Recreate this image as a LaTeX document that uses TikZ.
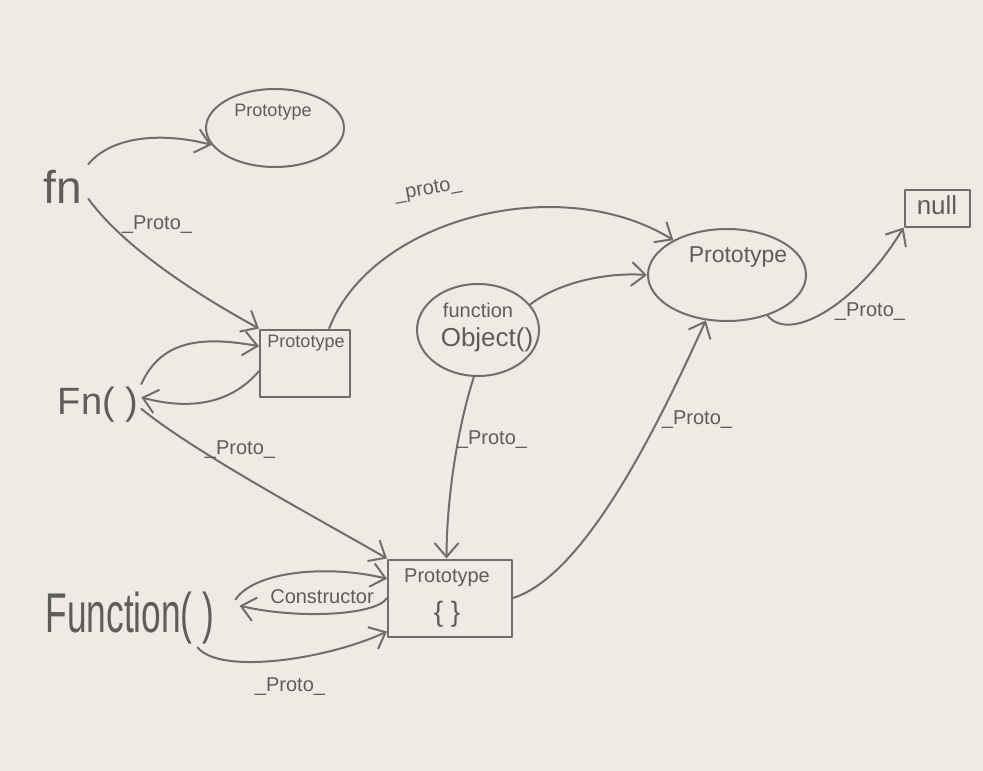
\documentclass[tikz,border=0pt]{standalone}
\usepackage{fontspec}
\setmainfont{Liberation Sans}
\usepackage{graphicx}
\usetikzlibrary{shapes.geometric,arrows.meta}
\definecolor{paper}{RGB}{238,235,229}
\definecolor{ink}{RGB}{112,110,108}
\definecolor{inktext}{RGB}{95,93,91}
\newcommand\fs[1]{\fontsize{#1}{#1}\selectfont}
\newcommand\sx[2]{\scalebox{#1}[1]{#2}}
\begin{document}
\begin{tikzpicture}[x=1pt,y=-1pt,line cap=round,line join=round,
  arr/.style={draw=ink,line width=2pt,-{Straight Barb[length=14pt,width=24pt]}},
  shp/.style={draw=ink,line width=2pt},
  txt/.style={text=inktext,inner sep=0pt},
  lbl/.style={txt,font=\fs{20}}]
\fill[paper] (0,0) rectangle (983,771);
\useasboundingbox (0,0) rectangle (983,771);

% nodes
\node[txt,font=\fs{46},inner sep=6pt] (fn) at (63,187) {fn};
\node[shp,ellipse,minimum width=138pt,minimum height=78pt] (ptop) at (275,128) {};
\node[txt,font=\fs{18}] (ptopT) at (273,112) {Prototype};
\node[shp,rectangle,minimum width=90pt,minimum height=67pt] (fnbox) at (305,363) {};
\node[txt,font=\fs{18}] (fnboxT) at (306,343) {Prototype};
\node[txt,font=\fs{38},inner sep=3pt] (FnP) at (98,405) {Fn( )};
\node[shp,ellipse,minimum width=122pt,minimum height=92pt] (obj) at (478,330) {};
\node[txt,font=\fs{20}] (objT1) at (478,310) {function};
\node[txt,font=\fs{26}] (objT2) at (487,340) {Object()};
\node[shp,ellipse,minimum width=158pt,minimum height=92pt] (bigE) at (727,275) {};
\node[txt,font=\fs{23}] (bigET) at (738,257) {Prototype};
\node[shp,minimum width=65pt,minimum height=37pt] (nullbox) at (937,208) {};
\node[txt,font=\fs{26}] (nullT) at (937,205) {null};
\node[shp,minimum width=124pt,minimum height=77pt] (bbox) at (450,598) {};
\node[txt,font=\fs{20}] (bboxT1) at (447,578) {Prototype};
\node[txt,font=\fs{28}] (bboxT2) at (447,614) {\{ \}};
\node[txt,font=\fs{56},inner sep=3pt] (Func) at (130,618) {\sx{0.63}{Function( )}};

% connectors
\draw[arr] (fn.north east) .. controls +(25,-30) and +(-45,-12) .. (ptop.195);
\draw[arr] (fn.-25) .. controls +(37,51) and +(-55,-30) .. (fnbox.north west);
\node[lbl] (l1) at (157,225) {\_Proto\_};

\draw[arr] (FnP.north east) .. controls +(20,-45) and +(-55,-10) .. (fnbox.160);
\draw[arr] (fnbox.190) .. controls +(-30,35) and +(45,12) .. (FnP.10);
\draw[arr] (FnP.-5) .. controls +(55,45) and +(-60,-35) .. (bbox.north west);
\node[lbl] (l2) at (240,450) {\_Proto\_};

\draw[arr] (fnbox.55) .. controls +(42,-110) and +(-113,-70) .. (bigE.147);
\node[lbl,rotate=10] (l3) at (428,190) {\_proto\_};

\draw[arr] (obj.26) .. controls +(25,-20) and +(-45,-3) .. (bigE.180);
\draw[arr] (obj.-95) .. controls +(-16,49) and +(0,-60) .. (bbox.95);
\node[lbl] (l4) at (492,440) {\_Proto\_};

\draw[arr] (bbox.east) .. controls +(73,-23) and +(-46,101) .. (bigE.245);
\node[lbl] (l5) at (697,420) {\_Proto\_};

\draw[arr] (bigE.-45) .. controls +(23,29) and +(-44,74) .. (nullbox.south west);
\node[lbl] (l6) at (870,312) {\_Proto\_};

\draw[arr] ([xshift=18pt]Func.12) .. controls +(20,-29) and +(-58,-14) .. (bbox.163);
\draw[arr] (bbox.180) .. controls +(-10,17) and +(60,14) .. ([xshift=22pt]Func.8);
\node[lbl] (l7) at (322,597) {Constructor};

\draw[arr] ([xshift=-20pt]Func.south east) .. controls +(22,28) and +(-60,28) .. (bbox.208);
\node[lbl] (l8) at (290,687) {\_Proto\_};
\end{tikzpicture}
\end{document}
